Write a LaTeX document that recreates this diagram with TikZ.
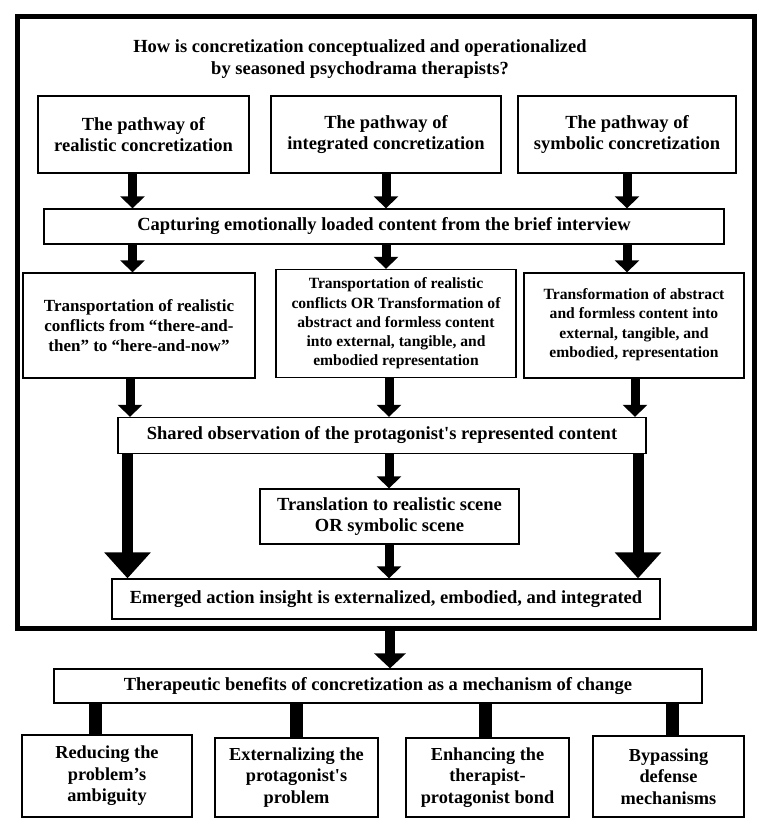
\documentclass[tikz,border=0pt]{standalone}
\usepackage{fontspec}
\setmainfont{Liberation Serif}
\newfontfamily\mainf{Liberation Serif}
\usetikzlibrary{arrows.meta}
\begin{document}
\begin{tikzpicture}[x=1pt,y=-1pt,
  txt/.style={inner sep=0pt, align=center, font=\mainf\bfseries\fontsize{18.5}{21.5}\selectfont},
  box/.style={txt, draw=black, line width=1.3pt, fill=white},
  midA/.style={font=\mainf\bfseries\fontsize{17}{20}\selectfont},
  midB/.style={font=\mainf\bfseries\fontsize{15.6}{19.2}\selectfont},
  bot/.style={font=\mainf\bfseries\fontsize{18.3}{21.5}\selectfont},
  arr/.style={line width=9pt, -{Triangle[width=24pt,length=12pt]}},
  bigarr/.style={line width=11pt, -{Triangle[width=45pt,length=26pt]}},
  outarr/.style={line width=10pt, -{Triangle[width=31pt,length=15pt]}},
  bar/.style={line width=13pt}
]
\useasboundingbox (0,0) rectangle (767,834);
\node[draw=black, line width=5pt, minimum width=736.5pt, minimum height=611.5pt, inner sep=0pt] (frame) at (385.75,322.75) {};

\node[txt, font=\mainf\bfseries\fontsize{18.5}{22}\selectfont] (title) at (360,59.5) {How is concretization conceptualized and operationalized\\by seasoned psychodrama therapists?};

\node[box, minimum width=211pt, minimum height=77pt] (p1) at (143.5,134.5) {The pathway of\\realistic concretization};
\node[box, minimum width=230pt, minimum height=77pt] (p2) at (386,134.5) {The pathway of\\integrated concretization};
\node[box, minimum width=218pt, minimum height=77pt] (p3) at (627,134.5) {The pathway of\\symbolic concretization};

\node[box, minimum width=680pt, minimum height=35pt] (cap) at (384,226.5) {Capturing emotionally loaded content from the brief interview};

\node[box, midA, minimum width=232pt, minimum height=105pt] (m1) at (139,325.5) {Transportation of realistic\\conflicts from “there-and-\\then” to “here-and-now”};
\node[box, midB, minimum width=240pt, minimum height=108pt] (m2) at (396,323.5) {Transportation of realistic\\conflicts OR Transformation of\\abstract and formless content\\into external, tangible, and\\embodied representation};
\node[box, midB, minimum width=220pt, minimum height=105pt, text depth=5pt] (m3) at (634,325.5) {Transformation of abstract\\and formless content into\\external, tangible, and\\embodied, representation};

\node[box, minimum width=528pt, minimum height=36pt] (sh) at (382,435.5) {Shared observation of the protagonist's represented content};
\node[box, minimum width=259pt, minimum height=55pt] (tr) at (389.5,516.5) {Translation to realistic scene\\OR symbolic scene};
\node[box, minimum width=548pt, minimum height=40pt] (em) at (386,599) {Emerged action insight is externalized, embodied, and integrated};

\node[box, minimum width=648pt, minimum height=34pt] (th) at (378,686) {Therapeutic benefits of concretization as a mechanism of change};

\node[box, bot, minimum width=170pt, minimum height=82pt] (b1) at (107,776) {Reducing the\\problem’s\\ambiguity};
\node[box, bot, minimum width=163pt, minimum height=79pt] (b2) at (296.5,777.5) {Externalizing the\\protagonist's\\problem};
\node[box, bot, minimum width=163pt, minimum height=79pt] (b3) at (487.5,777.5) {Enhancing the\\therapist-\\protagonist bond};
\node[box, bot, minimum width=151pt, minimum height=81pt] (b4) at (668.5,776.5) {Bypassing\\defense\\mechanisms};

% x positions of connectors
\coordinate (xa) at (132.5,0);
\coordinate (xb) at (386,0);
\coordinate (xc) at (627,0);
\coordinate (xd) at (130,0);
\coordinate (xe) at (389,0);
\coordinate (xf) at (635,0);
\coordinate (xg) at (127.5,0);
\coordinate (xh) at (638,0);
\coordinate (xi) at (390,0);
\coordinate (xj) at (95.5,0);
\coordinate (xk) at (296,0);
\coordinate (xl) at (485,0);
\coordinate (xm) at (672,0);

\draw[arr] (p1.south -| xa) -- (cap.north -| xa);
\draw[arr] (p2.south -| xb) -- (cap.north -| xb);
\draw[arr] (p3.south -| xc) -- (cap.north -| xc);

\draw[arr] (cap.south -| xa) -- (m1.north -| xa);
\draw[arr] (cap.south -| xb) -- (m2.north -| xb);
\draw[arr] (cap.south -| xc) -- (m3.north -| xc);

\draw[arr] (m1.south -| xd) -- (sh.north -| xd);
\draw[arr] (m2.south -| xe) -- (sh.north -| xe);
\draw[arr] (m3.south -| xf) -- (sh.north -| xf);

\draw[arr] (sh.south -| xe) -- (tr.north -| xe);
\draw[arr] (tr.south -| xe) -- (em.north -| xe);
\draw[bigarr] (sh.south -| xg) -- (em.north -| xg);
\draw[bigarr] (sh.south -| xh) -- (em.north -| xh);

\draw[outarr] (frame.south -| xi) -- (th.north -| xi);

\draw[bar] (th.south -| xj) -- (b1.north -| xj);
\draw[bar] (th.south -| xk) -- (b2.north -| xk);
\draw[bar] (th.south -| xl) -- (b3.north -| xl);
\draw[bar] (th.south -| xm) -- (b4.north -| xm);
\end{tikzpicture}
\end{document}
